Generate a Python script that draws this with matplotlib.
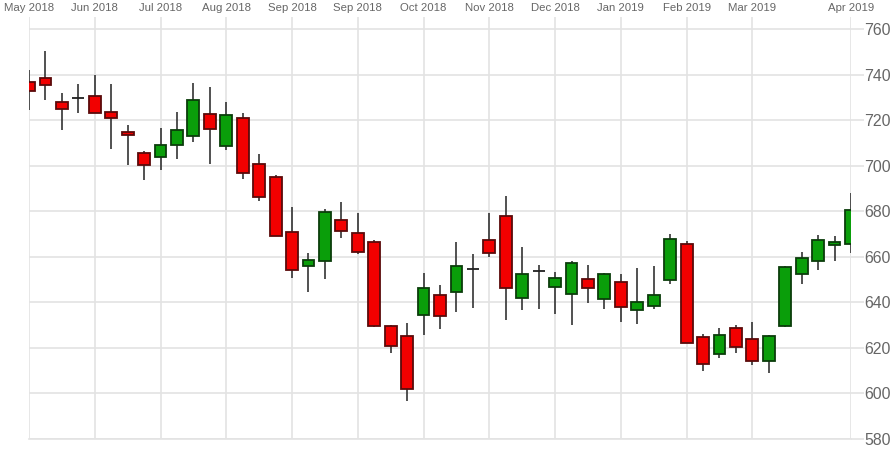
import numpy as np
import matplotlib
matplotlib.use("Agg")
import matplotlib.pyplot as plt

plt.rcParams['font.family'] = ['Liberation Sans', 'DejaVu Sans']

# Velas semanales (open, high, low, close)
opens = [736.9, 738.6, 728.1, 729.8, 730.7, 723.6, 714.9, 705.6, 703.9, 708.9,
         712.9, 722.7, 708.8, 720.8, 700.7, 694.9, 671.0, 656.0, 658.3, 676.0,
         670.6, 666.5, 629.8, 625.1, 634.4, 643.1, 644.7, 654.5, 667.4, 678.0,
         642.0, 653.8, 646.9, 643.7, 650.3, 641.3, 648.9, 636.5, 638.5, 649.8,
         665.6, 624.7, 617.3, 628.6, 623.8, 614.4, 629.6, 652.3, 658.0, 665.0,
         665.5]
highs = [742.0, 750.3, 732.0, 735.9, 739.8, 735.7, 717.9, 706.3, 716.4, 723.7,
         736.2, 734.4, 728.1, 723.3, 705.1, 695.9, 682.0, 661.5, 680.9, 683.9,
         679.1, 667.3, 630.0, 630.8, 652.8, 647.5, 666.4, 661.4, 679.1, 686.7,
         664.2, 656.3, 653.5, 658.2, 656.3, 652.8, 652.3, 654.9, 656.1, 670.0,
         667.1, 626.0, 628.6, 629.9, 631.2, 625.7, 656.0, 662.2, 669.6, 669.1,
         687.9]
lows = [724.4, 728.8, 715.7, 723.3, 723.0, 707.2, 700.4, 693.7, 698.1, 702.8,
        710.3, 700.9, 706.9, 694.2, 684.5, 669.0, 650.6, 644.7, 650.1, 668.1,
        661.1, 629.3, 617.6, 596.7, 625.5, 628.3, 635.9, 637.7, 660.0, 632.3,
        636.6, 637.1, 634.8, 630.1, 639.6, 637.1, 631.2, 630.4, 636.9, 648.1,
        622.0, 610.0, 615.7, 617.9, 612.4, 609.1, 629.3, 648.1, 654.1, 658.3,
        661.8]
closes = [732.8, 735.3, 724.9, 729.8, 723.1, 721.0, 713.7, 700.4, 708.9, 715.7,
          728.8, 716.2, 722.2, 696.8, 686.1, 669.1, 654.2, 658.6, 679.5, 671.5,
          662.0, 629.6, 620.8, 601.9, 646.4, 633.9, 655.8, 654.5, 661.5, 646.4,
          652.3, 653.8, 650.7, 657.4, 646.4, 652.6, 638.1, 640.0, 643.1, 667.7,
          622.3, 612.9, 625.7, 620.4, 614.1, 625.2, 655.4, 659.3, 667.4, 666.4,
          680.5]

# Etiquetas del eje x (cada 4 semanas y el final)
tick_pos = [0, 4, 8, 12, 16, 20, 24, 28, 32, 36, 40, 44, 50]
tick_labels = ['May 2018', 'Jun 2018', 'Jul 2018', 'Aug 2018', 'Sep 2018',
               'Sep 2018', 'Oct 2018', 'Nov 2018', 'Dec 2018', 'Jan 2019',
               'Feb 2019', 'Mar 2019', 'Apr 2019']
y_ticks = [580, 600, 620, 640, 660, 680, 700, 720, 740, 760]

o = np.array(opens)
h = np.array(highs)
l = np.array(lows)
c = np.array(closes)
x = np.arange(len(o))

up = c > o
face = np.where(up, '#0a9e0a', '#f20000')
edge = np.where(up, '#0b3d0b', '#5a0a0a')
edge = np.where(o == c, '#202020', edge)

fig = plt.figure(figsize=(8.95, 4.5), dpi=100)
ax = fig.add_axes([29 / 895, 11 / 450, 822 / 895, 422 / 450])

ax.vlines(x, l, h, color='#333333', linewidth=1.2, zorder=2)
ax.bar(x, np.abs(c - o), bottom=np.minimum(o, c), width=0.72,
       color=face, edgecolor=edge, linewidth=1.3, zorder=3)

ax.set_xlim(0, 50)
ax.set_ylim(580, 765.3)

ax.set_xticks(tick_pos)
ax.set_xticklabels(tick_labels)
ax.set_yticks(y_ticks)

ax.xaxis.tick_top()
ax.yaxis.tick_right()
ax.tick_params(axis='x', length=0, pad=3, labelsize=8.2, colors='#666666')
ax.tick_params(axis='y', length=9, width=1.2, color='#e3e3e3', pad=0.5,
               labelsize=11.4, labelcolor='#666666')

ax.grid(True, color='#e3e3e3', linewidth=1.2, zorder=0)
ax.set_axisbelow(True)
for s in ax.spines.values():
    s.set_visible(False)
ax.spines['bottom'].set_visible(True)
ax.spines['bottom'].set_color('#e3e3e3')
ax.spines['bottom'].set_linewidth(1.2)

fig.savefig('out.png', dpi=100)
plt.close(fig)
